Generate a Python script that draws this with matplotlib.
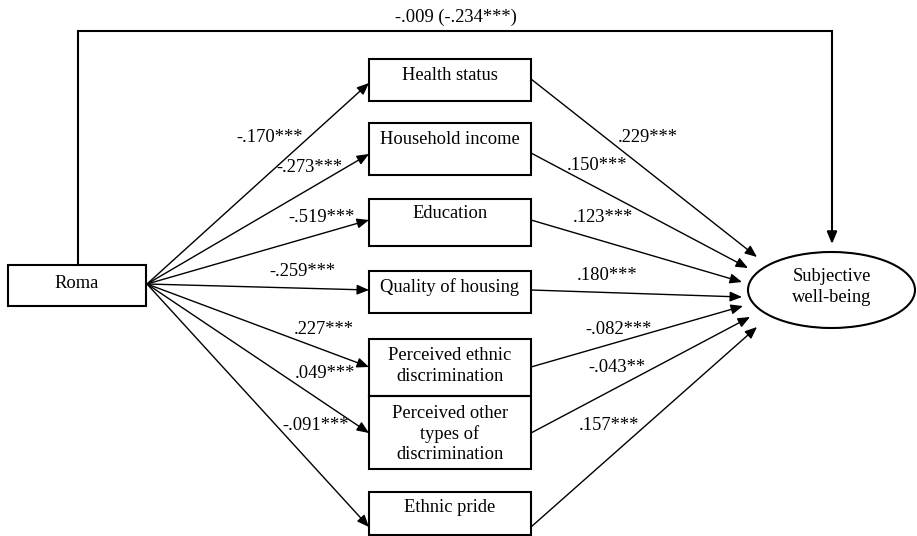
import matplotlib.pyplot as plt
from matplotlib.patches import Rectangle, Ellipse

plt.rcParams['font.family'] = ['Liberation Serif', 'DejaVu Serif']

# --- Model content ---
SOURCE = 'Roma'
OUTCOME = 'Subjective\nwell-being'
mediators = ['Health status', 'Household income', 'Education', 'Quality of housing',
             'Perceived ethnic\ndiscrimination', 'Perceived other\ntypes of\ndiscrimination',
             'Ethnic pride']
a_paths = ['-.170***', '-.273***', '-.519***', '-.259***', '.227***', '.049***', '-.091***']
b_paths = ['.229***', '.150***', '.123***', '.180***', '-.082***', '-.043**', '.157***']
direct_path = '-.009 (-.234***)'

# --- Layout (pixel space, y down) ---
W, H = 917, 536
box_x0, box_x1 = 369, 531
box_top = [59, 123, 199, 271, 339, 396, 492]
box_bot = [101, 175, 246, 313, 396, 469, 535]
text_y = [75, 140, 213, 287, 366, 434, 508]
in_y = [83, 154, 220, 290, 367, 433, 527]
out_y = [79, 153, 220, 290, 367, 433, 527]
tips = [(757, 257), (748, 268), (742, 282), (742, 297), (743, 306), (750, 317), (757, 327)]
a_pos = [(270, 138), (309, 168), (322, 217), (302, 272), (324, 330), (325, 373), (316, 425)]
b_pos = [(648, 137), (597, 165), (603, 218), (607, 275), (619, 329), (617, 367), (609, 425)]

roma_box = (8, 265, 146, 306)
roma_out = (147, 284)
ell_c, ell_w, ell_h = (831.5, 290), 167, 76

FS = 13.3
LS = 1.25
ARROW = dict(arrowstyle='-|>,head_length=0.6,head_width=0.25', mutation_scale=12,
             color='black', lw=1.0, shrinkA=0, shrinkB=0)

fig = plt.figure(figsize=(W / 100, H / 100), dpi=100)
ax = fig.add_axes([0, 0, 1, 1])
ax.set_xlim(0, W)
ax.set_ylim(H, 0)
ax.axis('off')

# source box
x0, y0, x1, y1 = roma_box
ax.add_patch(Rectangle((x0, y0), x1 - x0, y1 - y0, fill=False, lw=1.5, ec='black'))
ax.text((x0 + x1) / 2, 283, SOURCE, ha='center', va='center', fontsize=FS)

# outcome ellipse
ax.add_patch(Ellipse(ell_c, ell_w, ell_h, fill=False, lw=1.5, ec='black'))
ax.text(ell_c[0], 287, OUTCOME, ha='center', va='center', fontsize=FS, linespacing=LS)

# mediator boxes and both path legs
for i, name in enumerate(mediators):
    ax.add_patch(Rectangle((box_x0, box_top[i]), box_x1 - box_x0, box_bot[i] - box_top[i],
                           fill=False, lw=1.5, ec='black'))
    ax.text((box_x0 + box_x1) / 2, text_y[i], name, ha='center', va='center',
            fontsize=FS, linespacing=LS)
    ax.annotate('', xy=(box_x0, in_y[i]), xytext=roma_out, arrowprops=ARROW)
    ax.annotate('', xy=tips[i], xytext=(box_x1, out_y[i]), arrowprops=ARROW)
    ax.text(*a_pos[i], a_paths[i], ha='center', va='center', fontsize=FS)
    ax.text(*b_pos[i], b_paths[i], ha='center', va='center', fontsize=FS)

# direct effect over the top
ax.plot([78, 78, 832], [265, 31, 31], color='black', lw=1.5, solid_joinstyle='miter')
ax.annotate('', xy=(832, 244), xytext=(832, 31), arrowprops=dict(ARROW, lw=1.5))
ax.text(456, 17, direct_path, ha='center', va='center', fontsize=FS)

fig.savefig('out.png', dpi=100)
